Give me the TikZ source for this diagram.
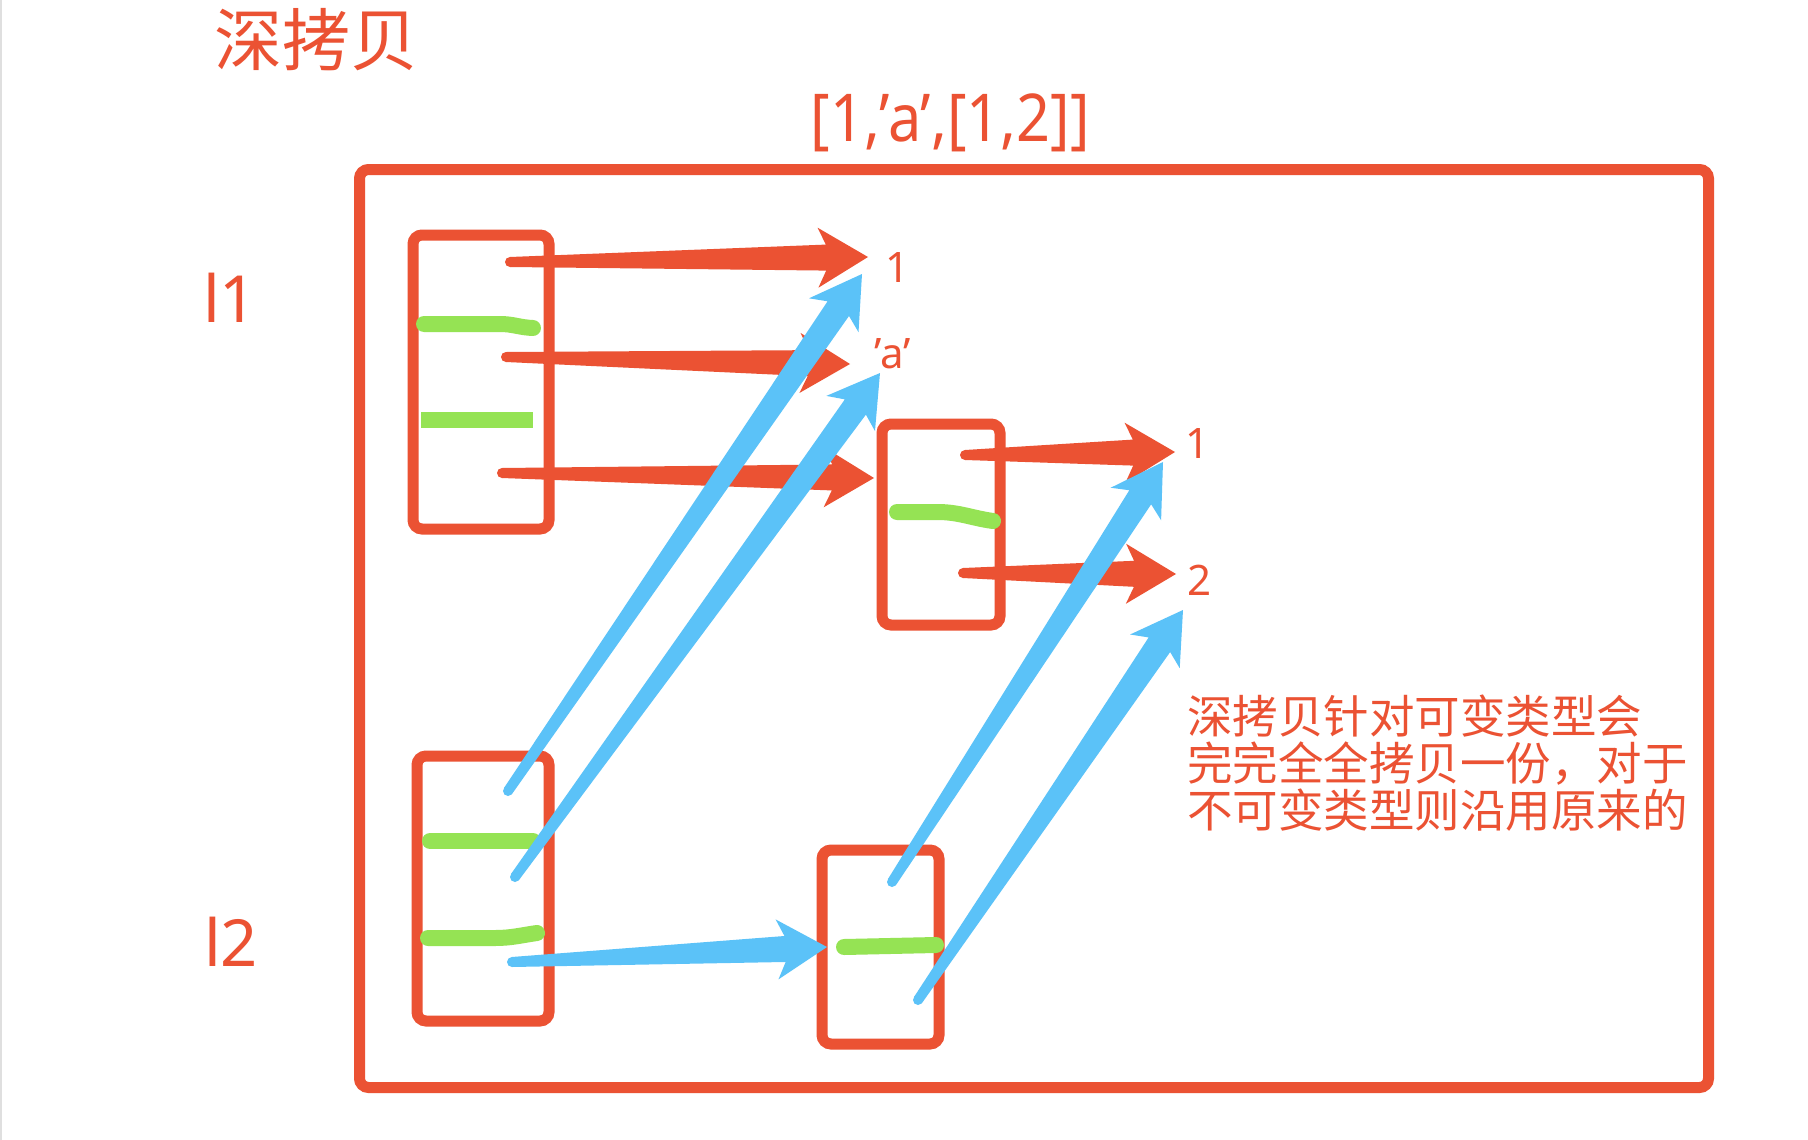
\documentclass[tikz,border=0pt]{standalone}
\usepackage{fontspec}
\setmainfont{Noto Sans CJK SC}
\newfontfamily\lat{Noto Sans}
\usetikzlibrary{calc}
\definecolor{cred}{HTML}{EB5233}
\definecolor{cblue}{HTML}{5BC2F8}
\definecolor{cgreen}{HTML}{95E354}
% tapered hand-drawn arrow: #1 colour, #2 start coordinate, #3 tip coordinate
\newcommand\tarrow[3]{%
  \fill[#1] ($(#2)!5pt!90:(#3)$) -- ($(#3)!42pt!(#2)!13pt!90:(#3)$) -- ($(#3)!50pt!(#2)!30pt!90:(#3)$) -- (#3)
    -- ($(#3)!50pt!(#2)!30pt!-90:(#3)$) -- ($(#3)!42pt!(#2)!13pt!-90:(#3)$) -- ($(#2)!5pt!-90:(#3)$) -- cycle;
  \fill[#1] (#2) circle[radius=5pt];}
\tikzset{
  box/.style={draw=cred, line width=11pt, rounded corners=9pt, inner sep=0pt},
  gstroke/.style={draw=cgreen, line width=16pt, line cap=round},
  lbl/.style={text=cred, inner sep=0pt, anchor=base},
  note/.style={text=cred, inner sep=0pt, anchor=base west, font=\fontsize{45.5}{47}\selectfont},
}
\begin{document}
\begin{tikzpicture}[x=1pt,y=-1pt]
\fill[white] (0,0) rectangle (1808,1140);
\useasboundingbox (0,0) rectangle (1808,1140);
\draw[gray!25, line width=2pt] (1,0) -- (1,1140);

% texts
\node[lbl, font=\fontsize{68}{68}\selectfont] (title) at (316,66) {深拷贝};
\node[lbl, font=\lat\fontsize{66}{66}\selectfont] (list) at (950,141) {\scalebox{0.9}[1]{[1,’a’,[1,2]]}};
\node[lbl, anchor=base west, font=\lat\fontsize{65}{65}\selectfont] (l1) at (203,322) {l1};
\node[lbl, anchor=base west, font=\lat\fontsize{65}{65}\selectfont] (l2) at (204,966) {l2};
\node[lbl, font=\lat\fontsize{42}{42}\selectfont] (v1) at (898,282) {1};
\node[lbl, font=\lat\fontsize{42}{42}\selectfont] (va) at (893,368) {’a’};
\node[lbl, font=\lat\fontsize{42}{42}\selectfont] (w1) at (1197,458) {1};
\node[lbl, font=\lat\fontsize{42}{42}\selectfont] (w2) at (1199,595) {2};
\node[note] (n1) at (1187,733) {深拷贝针对可变类型会};
\node[note] (n2) at (1187,780) {完完全全拷贝一份，对于};
\node[note] (n3) at (1187,827) {不可变类型则沿用原来的};

% boxes
\node[box, minimum width=1349pt, minimum height=918pt] (outer) at (1034,628.5) {};
\node[box, minimum width=136pt, minimum height=294pt] (A) at (481,382) {};
\node[box, minimum width=118pt, minimum height=201pt] (B) at (941,524.5) {};
\node[box, minimum width=132pt, minimum height=265pt] (C) at (483,888.5) {};
\node[box, minimum width=117pt, minimum height=194pt] (D) at (880.5,947) {};

% green marks
\draw[gstroke] (424,324) -- (500,324) to[out=0,in=178] (533,328);
\draw[gstroke, line cap=butt] (421,420) -- (533,420);
\draw[gstroke] (897,512) -- (937,512) to[out=0,in=172] (993,521);
\draw[gstroke] (430,841) -- (533,841);
\draw[gstroke] (428,938) -- (495,938) to[out=0,in=188] (537,933);
\draw[gstroke] (844,947) -- (936,945);

% arrow end points
\coordinate (ra1s) at (510,262); \coordinate (ra1t) at (868,257);
\coordinate (ra2s) at (506,357); \coordinate (ra2t) at (850,364);
\coordinate (ra3s) at (502,473); \coordinate (ra3t) at (874,478);
\coordinate (rb1s) at (965,455); \coordinate (rb1t) at (1175,452);
\coordinate (rb2s) at (963,573); \coordinate (rb2t) at (1176,574);
\coordinate (bc1s) at (508,791); \coordinate (bc1t) at (862,274);
\coordinate (bc2s) at (515,877); \coordinate (bc2t) at (880,373);
\coordinate (bc3s) at (512,962); \coordinate (bc3t) at (827,947);
\coordinate (bd1s) at (892,882); \coordinate (bd1t) at (1163,462);
\coordinate (bd2s) at (918,1000); \coordinate (bd2t) at (1183,610);

% red arrows
\tarrow{cred}{ra1s}{ra1t}
\tarrow{cred}{ra2s}{ra2t}
\tarrow{cred}{ra3s}{ra3t}
\tarrow{cred}{rb1s}{rb1t}
\tarrow{cred}{rb2s}{rb2t}
% blue arrows
\tarrow{cblue}{bc1s}{bc1t}
\tarrow{cblue}{bc2s}{bc2t}
\tarrow{cblue}{bc3s}{bc3t}
\tarrow{cblue}{bd1s}{bd1t}
\tarrow{cblue}{bd2s}{bd2t}
\end{tikzpicture}
\end{document}
